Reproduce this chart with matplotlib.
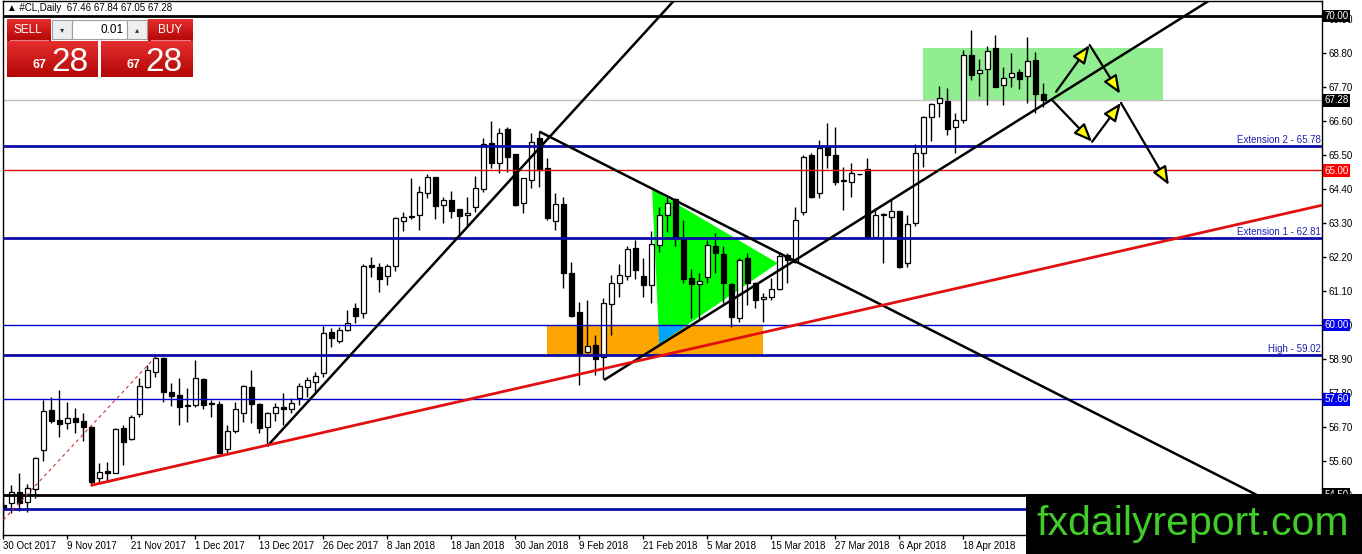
import numpy as np
import pandas as pd
import matplotlib
matplotlib.use('Agg')
import matplotlib.pyplot as plt
import matplotlib.transforms as mtransforms
from matplotlib.patches import Rectangle, Polygon

plt.rcParams['font.family'] = ['Liberation Sans', 'DejaVu Sans']

# Daily OHLC (30 Oct 2017 .. 2 May 2018)
opens = [54.18, 54.23, 54.59, 54.26, 54.68, 55.96, 57.24, 56.93, 56.82, 56.98,
         56.89, 56.69, 55.04, 55.28, 55.22, 56.66, 56.31, 57.12, 58.00, 58.47,
         58.92, 57.82, 57.74, 57.39, 57.41, 58.24, 57.49, 57.44, 55.98, 56.58,
         57.14, 57.98, 57.44, 56.69, 57.14, 57.34, 57.27, 57.65, 58.00, 58.17,
         58.46, 59.76, 59.49, 59.84, 60.54, 60.38, 61.94, 61.87, 61.59, 61.91,
         63.38, 63.53, 63.56, 64.26, 64.78, 63.87, 64.05, 63.74, 63.55, 63.81,
         64.39, 65.88, 65.23, 66.33, 65.53, 63.96, 64.69, 66.04, 65.07, 63.38,
         63.90, 61.67, 60.41, 59.12, 59.35, 58.98, 60.68, 61.37, 61.59, 62.48,
         61.59, 61.30, 62.59, 63.56, 64.07, 62.81, 61.51, 61.33, 61.54, 62.57,
         62.30, 61.33, 60.22, 62.16, 61.37, 60.83, 60.92, 61.15, 62.27, 62.05,
         63.67, 65.50, 64.26, 65.77, 65.50, 64.69, 64.64, 64.89, 65.04, 62.86,
         63.55, 63.49, 63.69, 62.00, 63.29, 65.56, 66.74, 67.17, 67.26, 66.40,
         66.64, 68.74, 68.15, 68.27, 68.95, 67.77, 68.02, 68.20, 68.06, 68.58,
         67.46]
highs = [54.45, 54.82, 55.20, 54.85, 55.74, 57.57, 57.66, 57.90, 57.52, 57.30,
         57.14, 56.73, 55.55, 55.58, 56.66, 56.76, 57.09, 58.27, 58.71, 59.03,
         58.98, 58.11, 58.27, 57.95, 58.87, 58.27, 57.57, 57.54, 56.76, 57.52,
         58.06, 58.54, 57.49, 57.20, 57.49, 57.79, 57.63, 58.13, 58.33, 58.49,
         59.97, 59.89, 59.95, 60.49, 60.72, 61.97, 62.21, 62.02, 61.97, 63.48,
         63.65, 64.75, 64.50, 64.89, 64.80, 64.13, 64.35, 63.74, 64.13, 64.82,
         66.04, 66.61, 66.37, 66.40, 65.55, 64.77, 66.20, 66.26, 65.39, 64.26,
         64.15, 62.05, 60.76, 60.81, 59.68, 60.86, 61.62, 61.97, 62.56, 62.75,
         62.16, 63.05, 63.83, 64.15, 64.10, 63.40, 61.80, 61.67, 62.75, 62.97,
         62.57, 61.37, 62.16, 62.32, 61.40, 61.03, 61.51, 62.37, 62.32, 63.83,
         65.50, 65.56, 65.99, 66.53, 66.40, 65.12, 65.23, 64.90, 65.39, 63.78,
         63.61, 64.05, 63.69, 63.56, 65.86, 66.76, 67.20, 67.74, 67.66, 66.87,
         68.90, 69.55, 68.60, 69.03, 69.39, 68.36, 68.79, 68.27, 69.33, 68.85,
         67.84]
lows = [53.69, 53.91, 53.99, 53.96, 54.39, 55.61, 56.82, 56.39, 56.63, 56.52,
        56.26, 54.79, 54.86, 54.93, 55.20, 55.47, 56.28, 57.01, 57.95, 58.33,
        57.52, 57.39, 56.76, 56.87, 57.36, 57.28, 57.03, 55.83, 55.85, 56.52,
        56.87, 56.82, 56.52, 56.08, 56.90, 56.76, 57.16, 57.41, 57.68, 57.84,
        58.31, 59.30, 59.43, 59.82, 60.08, 60.22, 61.56, 61.08, 61.30, 61.76,
        63.05, 63.42, 63.08, 64.10, 63.42, 63.29, 63.45, 62.86, 63.16, 63.67,
        64.32, 65.07, 64.91, 64.96, 63.85, 63.64, 64.42, 64.46, 63.40, 63.08,
        61.19, 60.25, 58.06, 59.08, 58.38, 58.25, 59.68, 60.92, 61.46, 61.48,
        60.90, 60.72, 62.35, 63.02, 62.56, 61.35, 60.22, 60.16, 61.37, 61.67,
        60.70, 59.95, 60.11, 60.65, 60.54, 60.11, 60.81, 61.13, 61.35, 62.00,
        63.56, 64.10, 64.10, 65.07, 64.53, 63.72, 64.13, 64.86, 62.84, 62.84,
        62.02, 62.86, 61.83, 61.87, 63.20, 65.12, 65.97, 66.74, 66.15, 65.56,
        66.55, 67.93, 67.41, 67.12, 67.69, 67.12, 67.71, 67.63, 67.17, 66.87,
        67.05]
closes = [54.07, 54.61, 54.25, 54.71, 55.69, 57.22, 56.90, 56.79, 57.00, 56.87,
          56.71, 54.93, 55.25, 55.22, 56.62, 56.20, 57.03, 58.03, 58.54, 58.92,
          57.82, 57.71, 57.36, 57.41, 58.27, 57.41, 57.44, 55.85, 56.57, 57.27,
          58.03, 57.43, 56.66, 57.14, 57.34, 57.27, 57.47, 58.03, 58.22, 58.35,
          59.73, 59.57, 59.84, 60.08, 60.29, 61.91, 61.87, 61.48, 61.91, 63.45,
          63.48, 63.48, 64.32, 64.80, 63.85, 64.05, 63.70, 63.53, 63.61, 64.42,
          65.86, 65.23, 66.20, 65.45, 63.88, 64.75, 65.93, 65.02, 63.45, 63.91,
          61.67, 60.29, 59.03, 59.33, 58.89, 60.70, 61.37, 61.62, 62.45, 61.78,
          61.30, 62.62, 63.56, 63.96, 62.84, 61.48, 61.33, 61.44, 62.59, 62.34,
          61.35, 60.27, 62.10, 61.35, 60.81, 60.90, 61.17, 62.23, 62.10, 63.40,
          65.45, 64.15, 65.72, 65.50, 64.64, 64.65, 64.91, 64.88, 62.86, 63.56,
          63.59, 63.70, 61.89, 63.27, 65.56, 66.72, 67.14, 67.34, 66.33, 66.64,
          68.74, 68.09, 68.25, 68.88, 67.71, 67.98, 68.15, 67.95, 68.55, 67.48,
          67.28]

# trading days of the broker feed (no bars on 25 Dec and 1 Jan)
bar_dates = pd.bdate_range('2017-10-30', '2018-05-04')
bar_dates = bar_dates.drop(pd.to_datetime(['2017-12-25', '2018-01-01']))[:len(opens)]
date_labels = ['30 Oct 2017', '9 Nov 2017', '21 Nov 2017', '1 Dec 2017', '13 Dec 2017',
               '26 Dec 2017', '8 Jan 2018', '18 Jan 2018', '30 Jan 2018', '9 Feb 2018',
               '21 Feb 2018', '5 Mar 2018', '15 Mar 2018', '27 Mar 2018', '6 Apr 2018',
               '18 Apr 2018']
price_ticks = [54.50, 55.60, 56.70, 57.80, 58.90, 60.00, 61.10, 62.20, 63.30,
               64.40, 65.50, 66.60, 67.70, 68.80, 69.90]

# horizontal levels
level_70 = 70.00
bid = 67.28
ext2 = 65.78
level_65 = 65.00
ext1 = 62.81
level_60 = 60.00
fib_high = 59.02
level_576 = 57.60
level_545 = 54.50
level_low = 54.05

# trend line anchors as (bar, price)
steep_line = [(33.0, 56.08), (43.4, 59.03)]
down_line = [(67.0, 66.26), (109.4, 60.70)]
up_line = [(75.1, 58.22), (150.25, 70.42)]
red_line = [(11.1, 54.82), (164.9, 63.88)]
fib_line = [(0.0, 53.69), (19.0, 58.96)]

# drawn zones
demand_box = (68.0, 94.96, 59.02, 60.00)
target_box = (115.0, 145.0, 67.28, 68.96)
pennant = [(81.1, 64.39), (82.0, 59.39), (96.8, 62.00)]

# scenario arrows (start, tip)
arrows = [((131.6, 67.55), (135.8, 69.06)),
          ((135.8, 69.06), (139.6, 67.48)),
          ((131.1, 67.28), (136.1, 65.93)),
          ((136.1, 65.93), (139.7, 67.19)),
          ((139.7, 67.19), (145.7, 64.53))]


def clip_to_box(poly, x0, x1, y0, y1):
    """Sutherland-Hodgman clip of a polygon against an axis-aligned box"""
    def clip(pts, inside, cross):
        out = []
        for i in range(len(pts)):
            cur, prev = pts[i], pts[i - 1]
            if inside(cur):
                if not inside(prev):
                    out.append(cross(prev, cur))
                out.append(cur)
            elif inside(prev):
                out.append(cross(prev, cur))
        return out

    def at_x(xv):
        return lambda p, q: (xv, p[1] + (q[1] - p[1]) * (xv - p[0]) / (q[0] - p[0]))

    def at_y(yv):
        return lambda p, q: (p[0] + (q[0] - p[0]) * (yv - p[1]) / (q[1] - p[1]), yv)

    pts = list(poly)
    pts = clip(pts, lambda p: p[0] >= x0, at_x(x0))
    pts = clip(pts, lambda p: p[0] <= x1, at_x(x1))
    pts = clip(pts, lambda p: p[1] >= y0, at_y(y0))
    pts = clip(pts, lambda p: p[1] <= y1, at_y(y1))
    return pts


def ray(anchors, x_end):
    (x1, y1), (x2, y2) = anchors
    slope = (y2 - y1) / (x2 - x1)
    return [x1, x_end], [y1, y1 + slope * (x_end - x1)]


W, H = 1362, 554
fig = plt.figure(figsize=(W / 100, H / 100), dpi=100)
fig.patch.set_facecolor('white')

# plot area in pixels: x 3..1322, y 1..535
px_per_bar = 8.0
px_per_usd = 30.9
bottom_px = 535
ax = fig.add_axes([3 / W, (H - bottom_px) / H, 1319 / W, (bottom_px - 1) / H])
xmin = -0.04
xmax = xmin + 1319 / px_per_bar
ymax = 70 + 15 / px_per_usd
ymin = 70 - (bottom_px - 16) / px_per_usd
ax.set_xlim(xmin, xmax)
ax.set_ylim(ymin, ymax)

blue_thick = '#0c0ca8'
blue_thin = '#0000c8'

# background zones (MT4 xors overlapping fills -> blue where they meet)
x0, x1, y0, y1 = demand_box
ax.add_patch(Rectangle((x0, y0), x1 - x0, y1 - y0, facecolor='#ffa500', edgecolor='none', zorder=1))
x0, x1, y0, y1 = target_box
ax.add_patch(Rectangle((x0, y0), x1 - x0, y1 - y0, facecolor='#90ee90', edgecolor='none', zorder=1))
ax.add_patch(Polygon(pennant, closed=True, facecolor='#00ff00', edgecolor='none', zorder=1.1))
overlap = clip_to_box(pennant, *demand_box)
if len(overlap) > 2:
    ax.add_patch(Polygon(overlap, closed=True, facecolor='#00a5ff', edgecolor='none', zorder=1.2))

# candles
x = np.arange(len(opens))
o = np.array(opens)
h = np.array(highs)
l = np.array(lows)
c = np.array(closes)
up = c >= o
ax.vlines(x, l, h, color='black', lw=1, zorder=3)
body_lo = np.minimum(o, c)
body_h = np.maximum(np.abs(c - o), 0.02)
ax.bar(x[up], body_h[up], bottom=body_lo[up], width=0.6, color='white',
       edgecolor='black', linewidth=0.9, zorder=4)
ax.bar(x[~up], body_h[~up], bottom=body_lo[~up], width=0.6, color='black',
       edgecolor='black', linewidth=0.9, zorder=4)

# horizontal levels
ax.axhline(level_70, color='black', lw=2, zorder=5)
ax.axhline(bid, color='#c0c0c0', lw=1, zorder=2)
ax.axhline(ext2, color=blue_thick, lw=2, zorder=5)
ax.axhline(level_65, color='#e01010', lw=1, zorder=5)
ax.axhline(ext1, color=blue_thick, lw=2, zorder=5)
ax.axhline(level_60, color=blue_thin, lw=1, zorder=5)
ax.axhline(fib_high, color=blue_thick, lw=2, zorder=5)
ax.axhline(level_576, color=blue_thin, lw=1, zorder=5)
ax.axhline(level_545, color='black', lw=2, zorder=5)
ax.axhline(level_low, color=blue_thick, lw=2, zorder=5)

# trend lines
for anchors in (steep_line, down_line, up_line):
    xs, ys = ray(anchors, xmax)
    ax.plot(xs, ys, color='black', lw=1.8, zorder=6, solid_capstyle='butt')
xs, ys = ray(red_line, xmax)
ax.plot(xs, ys, color='#e01010', lw=2, zorder=6)
(fx1, fy1), (fx2, fy2) = fib_line
ax.plot([fx1, fx2], [fy1, fy2], color='#d03030', lw=0.8, ls=(0, (3, 3)), zorder=6)

# scenario arrows
for start, tip in arrows:
    ax.annotate('', xy=tip, xytext=start, zorder=7,
                arrowprops=dict(arrowstyle='-|>,head_length=1.1,head_width=0.45',
                                facecolor='#ffff00', edgecolor='black', lw=1.6,
                                shrinkA=0, shrinkB=0))

# level captions
trans = mtransforms.blended_transform_factory(ax.transAxes, ax.transData)
for value, caption in ((ext2, 'Extension 2 - 65.78'), (ext1, 'Extension 1 - 62.81'),
                       (fib_high, 'High - 59.02')):
    ax.text(0.999, value + 0.04, caption, transform=trans, ha='right', va='bottom',
            fontsize=7, color='#2020b0', zorder=8)

# axes styling
for side in ('top', 'bottom', 'left', 'right'):
    ax.spines[side].set_color('black')
    ax.spines[side].set_linewidth(1)
ax.yaxis.tick_right()
ax.set_yticks(price_ticks)
ax.set_yticklabels([f'{v:.2f}' for v in price_ticks])
ax.tick_params(axis='y', direction='out', length=3, width=1, pad=2, labelsize=7)
tick_pos = bar_dates.get_indexer(pd.to_datetime(date_labels, format='%d %b %Y'))
ax.set_xticks(tick_pos)
ax.set_xticklabels(date_labels)
ax.tick_params(axis='x', direction='out', length=3, width=1, pad=1, labelsize=7)
for lab in ax.get_xticklabels():
    lab.set_horizontalalignment('left')

# price boxes on the scale
for value, text, fc in ((level_70, '70.00', 'black'), (bid, '67.28', 'black'),
                        (level_65, '65.00', '#ff0000'), (level_60, '60.00', '#0000ee'),
                        (level_576, '57.60', '#0000ee'), (level_545, '54.50', 'black')):
    ax.annotate(text, xy=(1.0, value), xycoords=trans, xytext=(2, 0),
                textcoords='offset points', ha='left', va='center', fontsize=7,
                color='white', annotation_clip=False, zorder=9,
                bbox=dict(boxstyle='square,pad=0.15', facecolor=fc, edgecolor='none'))

# overlay in pixel coordinates: header, trade panel, watermark
ov = fig.add_axes([0, 0, 1, 1], zorder=10)
ov.set_xlim(0, W)
ov.set_ylim(H, 0)
ov.axis('off')

ov.text(7, 8, '\u25b2 #CL,Daily  67.46 67.84 67.05 67.28', fontsize=7, va='center',
        ha='left', color='black', family=['Liberation Sans', 'DejaVu Sans'])


def red_box(x0, y0, x1, y1):
    grad = np.linspace(0, 1, 32).reshape(-1, 1)
    top = np.array([0.90, 0.18, 0.18])
    bottom = np.array([0.70, 0.02, 0.02])
    img = top + (bottom - top) * grad[..., None]
    ov.imshow(img, extent=(x0, x1, y1, y0), aspect='auto', zorder=1, interpolation='bilinear')


red_box(7, 19, 51, 41)
red_box(148, 19, 193, 41)
red_box(7, 41, 98, 77)
red_box(101, 41, 193, 77)
ov.set_xlim(0, W)
ov.set_ylim(H, 0)
ov.plot([10, 48], [40, 40], color='#f08080', lw=0.8, zorder=2)
ov.plot([151, 190], [40, 40], color='#f08080', lw=0.8, zorder=2)
ov.text(28, 30, 'SELL', color='white', fontsize=8.5, ha='center', va='center', zorder=3)
ov.text(170, 30, 'BUY', color='white', fontsize=8.5, ha='center', va='center', zorder=3)
ov.add_patch(Rectangle((52, 20), 20, 19, facecolor='#eeeeee', edgecolor='#a0a0a0', lw=0.8, zorder=2))
ov.add_patch(Rectangle((72, 20), 55, 19, facecolor='white', edgecolor='#a0a0a0', lw=0.8, zorder=2))
ov.add_patch(Rectangle((127, 20), 20, 19, facecolor='#eeeeee', edgecolor='#a0a0a0', lw=0.8, zorder=2))
ov.text(62, 30, '\u25be', fontsize=6, ha='center', va='center', color='#333333', zorder=3,
        family=['DejaVu Sans'])
ov.text(137, 30, '\u25b4', fontsize=6, ha='center', va='center', color='#333333', zorder=3,
        family=['DejaVu Sans'])
ov.text(124, 30, '0.01', fontsize=8.5, ha='right', va='center', color='black', zorder=3)
for x_small, x_big in ((46, 51), (140, 145)):
    ov.text(x_small, 68, '67', fontsize=9, fontweight='bold', ha='right', va='baseline',
            color='white', zorder=3)
    ov.text(x_big, 71, '28', fontsize=24, ha='left', va='baseline', color='white', zorder=3)

ov.add_patch(Rectangle((1026, 494), W - 1026, H - 494, facecolor='black', edgecolor='none', zorder=4))
ov.text(1193, 535, 'fxdailyreport.com', fontsize=29.5, color='#41cc2a', ha='center',
        va='baseline', zorder=5)

fig.savefig('out.png', dpi=100)
